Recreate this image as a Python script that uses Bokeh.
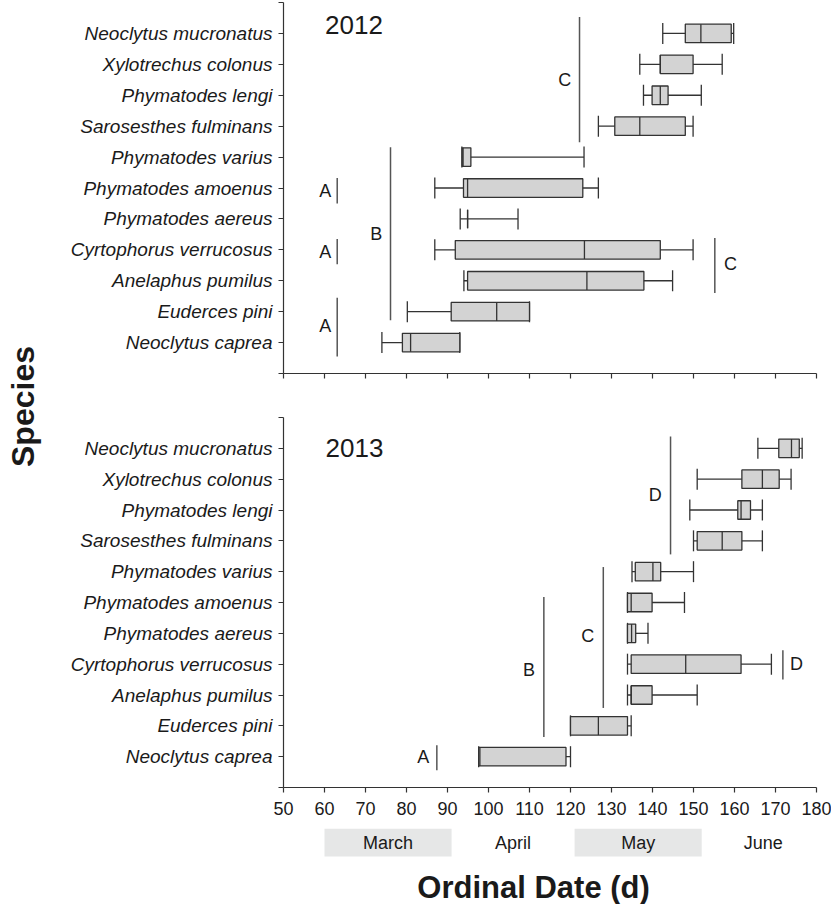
import math
from bokeh.plotting import figure
from bokeh.layouts import row, column
from bokeh.models import Range1d, FixedTicker, ColumnDataSource
from bokeh.core.properties import value
from bokeh.embed import file_html
from bokeh.resources import INLINE

FONT = "Liberation Sans"

# species from bottom (1) to top (11)
species = ["Neoclytus caprea", "Euderces pini", "Anelaphus pumilus",
           "Cyrtophorus verrucosus", "Phymatodes aereus", "Phymatodes amoenus",
           "Phymatodes varius", "Sarosesthes fulminans", "Phymatodes lengi",
           "Xylotrechus colonus", "Neoclytus mucronatus"]
ypos = list(range(1, 12))

# 2012 box-plot statistics (ordinal day)
wl_2012 = [74.0, 80.2, 94.0, 86.9, 93.1, 86.9, 93.5, 126.8, 137.8, 136.9, 142.5]
q1_2012 = [79.0, 90.9, 94.9, 91.9, 94.9, 93.9, 93.6, 130.8, 139.9, 141.9, 148.0]
med_2012 = [81.0, 102.0, 124.0, 123.4, 94.9, 94.9, 93.8, 136.9, 141.9, 141.9, 151.8]
q3_2012 = [93.0, 110.0, 137.9, 141.9, 94.9, 123.0, 95.7, 148.0, 143.8, 149.9, 159.2]
wr_2012 = [93.0, 110.0, 144.9, 149.9, 107.2, 126.8, 123.3, 149.9, 151.9, 157.0, 159.8]

# 2013 box-plot statistics (ordinal day)
wl_2013 = [97.6, 120.0, 133.9, 133.9, 133.9, 133.9, 135.0, 150.0, 149.1, 150.9, 165.7]
q1_2013 = [97.6, 120.0, 134.8, 134.8, 133.9, 133.9, 135.8, 150.9, 160.8, 161.8, 170.8]
med_2013 = [97.9, 126.8, 134.8, 148.1, 134.9, 134.8, 140.1, 157.0, 161.6, 166.8, 173.9]
q3_2013 = [118.9, 133.9, 139.9, 161.6, 135.9, 139.9, 142.0, 161.8, 163.9, 170.9, 175.8]
wr_2013 = [120.0, 134.8, 150.9, 169.0, 138.9, 147.8, 150.0, 166.8, 166.8, 173.8, 176.5]

# significance groups: letter, line x, line y0, line y1, letter x, letter y
grp_letter_2012 = ["A", "A", "A", "B", "C", "C"]
grp_x_2012 = [63.1, 63.1, 63.1, 76.1, 122.2, 155.2]
grp_y0_2012 = [5.5, 3.53, 0.55, 1.72, 7.48, 2.6]
grp_y1_2012 = [6.32, 4.35, 2.45, 7.32, 11.53, 4.38]
grp_tx_2012 = [60.2, 60.2, 60.2, 72.6, 118.6, 159.0]
grp_ty_2012 = [5.9, 3.94, 1.54, 4.51, 9.48, 3.54]

grp_letter_2013 = ["A", "B", "C", "D", "D"]
grp_x_2013 = [87.4, 113.5, 128.0, 144.4, 171.8]
grp_y0_2013 = [0.56, 1.64, 2.58, 7.56, 3.5]
grp_y1_2013 = [1.37, 6.18, 7.15, 11.38, 4.45]
grp_tx_2013 = [84.1, 109.9, 124.2, 140.7, 175.1]
grp_ty_2013 = [0.98, 3.8, 4.9, 9.5, 4.0]

years = ["2012", "2013"]
year_x = [67.2, 67.3]
year_y = [11.26, 11.0]

months = ["March", "April", "May", "June"]
month_start = [60, 91, 121, 152]
month_end = [91, 121, 152, 182]
month_shaded = [True, False, True, False]

x_ticks = list(range(50, 181, 10))

BOX_FILL = "#d3d3d3"
LINE = "#333333"
GRP = "#555555"
TXT = "#1a1a1a"

X_RANGE = Range1d(50, 180)
SPW = 44
LEFT = 239
RIGHT = 15
W = 831 - SPW


def panel(height, top_border, bottom_border, show_labels, wl, q1, med, q3, wr,
          g_letter, g_x, g_y0, g_y1, g_tx, g_ty, year, yx, yy):
    p = figure(width=W, height=height, x_range=X_RANGE, y_range=Range1d(0, 12),
               output_backend="svg", toolbar_location=None,
               min_border_left=LEFT, min_border_right=RIGHT,
               min_border_top=top_border, min_border_bottom=bottom_border)
    p.outline_line_color = None
    p.grid.visible = False
    p.background_fill_color = "white"

    half_box = 0.30
    half_cap = 0.34
    src = ColumnDataSource(dict(
        y=ypos, wl=wl, q1=q1, med=med, q3=q3, wr=wr,
        yb=[v - half_box for v in ypos], yt=[v + half_box for v in ypos],
        cb=[v - half_cap for v in ypos], ct=[v + half_cap for v in ypos]))
    # whiskers
    p.segment(x0="wl", y0="y", x1="wr", y1="y", source=src,
              line_color=LINE, line_width=1.3)
    p.segment(x0="wl", y0="cb", x1="wl", y1="ct", source=src,
              line_color=LINE, line_width=1.3)
    p.segment(x0="wr", y0="cb", x1="wr", y1="ct", source=src,
              line_color=LINE, line_width=1.3)
    # boxes
    p.quad(left="q1", right="q3", bottom="yb", top="yt", source=src,
           fill_color=BOX_FILL, line_color=LINE, line_width=1.3)
    p.segment(x0="med", y0="yb", x1="med", y1="yt", source=src,
              line_color=LINE, line_width=1.3)

    # groups
    gsrc = ColumnDataSource(dict(x=g_x, y0=g_y0, y1=g_y1, tx=g_tx, ty=g_ty,
                                 t=g_letter))
    p.segment(x0="x", y0="y0", x1="x", y1="y1", source=gsrc,
              line_color=GRP, line_width=1.5)
    p.text(x="tx", y="ty", text="t", source=gsrc, text_font=value(FONT),
           text_font_size=value("18px"), text_color=TXT,
           text_align="center", text_baseline="middle")

    p.text(x=[yx], y=[yy], text=[year], text_font=value(FONT),
           text_font_size=value("26px"), text_color=TXT,
           text_align="center", text_baseline="middle")

    # y axis
    yax = p.yaxis[0]
    yax.ticker = FixedTicker(ticks=list(range(0, 13)))
    overrides = {0: "", 12: ""}
    for i, s in zip(ypos, species):
        overrides[i] = s
    yax.major_label_overrides = overrides
    yax.major_label_text_font = FONT
    yax.major_label_text_font_style = "italic"
    yax.major_label_text_font_size = "19px"
    yax.major_label_text_color = TXT
    yax.major_label_standoff = 6
    yax.minor_tick_line_color = None
    yax.major_tick_in = 0
    yax.major_tick_out = 5
    yax.axis_line_color = LINE
    yax.major_tick_line_color = LINE
    yax.axis_line_width = 1.2
    yax.major_tick_line_width = 1.2

    xax = p.xaxis[0]
    xax.ticker = FixedTicker(ticks=x_ticks)
    xax.minor_tick_line_color = None
    xax.major_tick_in = 0
    xax.major_tick_out = 5
    xax.axis_line_color = LINE
    xax.major_tick_line_color = LINE
    xax.axis_line_width = 1.2
    xax.major_tick_line_width = 1.2
    if show_labels:
        xax.major_label_text_font = FONT
        xax.major_label_text_font_size = "18px"
        xax.major_label_text_color = TXT
        xax.major_label_standoff = 9
    else:
        xax.major_label_text_font_size = "0px"
        xax.major_label_overrides = {t: "" for t in x_ticks}
    return p


top = panel(393, 2, 20, False, wl_2012, q1_2012, med_2012, q3_2012, wr_2012,
            grp_letter_2012, grp_x_2012, grp_y0_2012, grp_y1_2012,
            grp_tx_2012, grp_ty_2012, years[0], year_x[0], year_y[0])
bot = panel(434, 24, 40, True, wl_2013, q1_2013, med_2013, q3_2013, wr_2013,
            grp_letter_2013, grp_x_2013, grp_y0_2013, grp_y1_2013,
            grp_tx_2013, grp_ty_2013, years[1], year_x[1], year_y[1])

# month strip and x-axis title
mp = figure(width=W, height=77, x_range=X_RANGE, y_range=Range1d(76, 0),
            output_backend="svg", toolbar_location=None,
            min_border_left=LEFT, min_border_right=RIGHT,
            min_border_top=1, min_border_bottom=0)
mp.outline_line_color = None
mp.grid.visible = False
mp.axis.visible = False
sh_l = [s for s, f in zip(month_start, month_shaded) if f]
sh_r = [e for e, f in zip(month_end, month_shaded) if f]
mp.quad(left=sh_l, right=sh_r, top=[0] * len(sh_l), bottom=[28] * len(sh_l),
        fill_color="#e6e7e7", line_color=None)
mp.text(x=[(s + e) / 2 for s, e in zip(month_start, month_end)],
        y=[14] * len(months), text=months, text_font=value(FONT),
        text_font_size=value("18px"), text_color=TXT,
        text_align="center", text_baseline="middle")
mp.text(x=[111], y=[59], text=["Ordinal Date (d)"], text_font=value(FONT),
        text_font_size=value("31px"), text_font_style="bold", text_color=TXT,
        text_align="center", text_baseline="middle")

# "Species" label
sp = figure(width=SPW, height=904, x_range=Range1d(0, SPW),
            y_range=Range1d(904, 0),
            output_backend="svg", toolbar_location=None,
            min_border_left=0, min_border_right=0, min_border_top=0,
            min_border_bottom=0)
sp.outline_line_color = None
sp.grid.visible = False
sp.axis.visible = False
sp.text(x=[22], y=[406], text=["Species"], angle=math.pi / 2,
        text_font=value(FONT), text_font_size=value("32px"),
        text_font_style="bold", text_color=TXT,
        text_align="center", text_baseline="middle")

layout = row(sp, column(top, bot, mp))
open("out.html", "w").write(file_html(layout, INLINE))
